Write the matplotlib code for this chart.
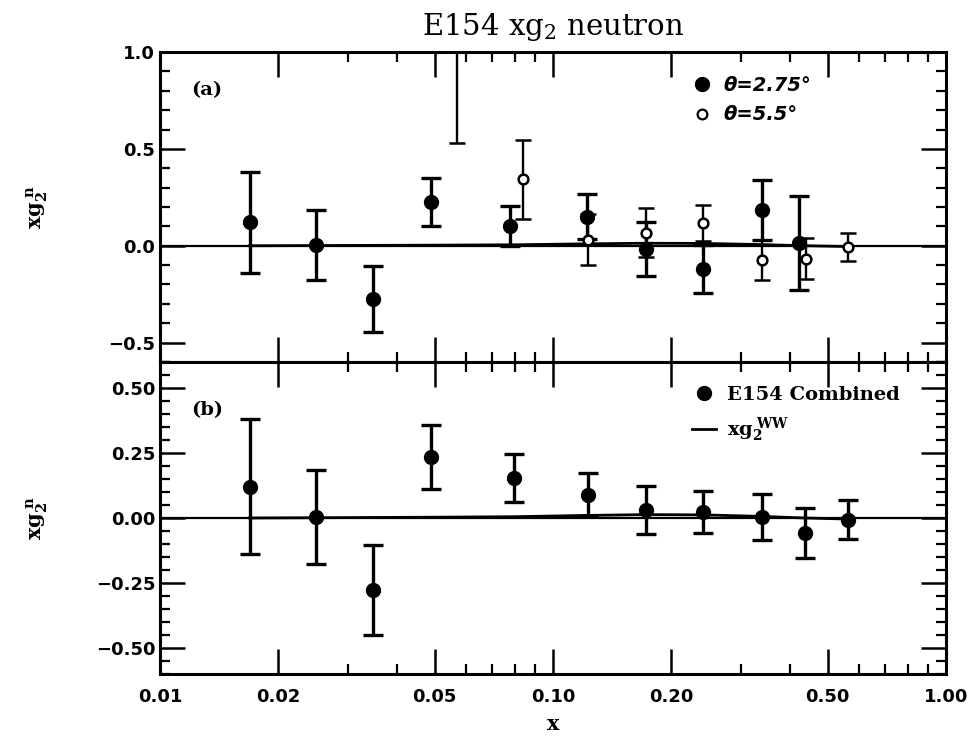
import matplotlib
matplotlib.use("Agg")
import matplotlib.pyplot as plt
from matplotlib.lines import Line2D
from matplotlib.ticker import FixedLocator, FixedFormatter, MultipleLocator, NullFormatter

plt.rcParams["mathtext.fontset"] = "dejavuserif"

# panel (a): theta = 2.75 deg (filled)
x_275 = [0.0169, 0.0249, 0.0349, 0.049, 0.0777, 0.1218, 0.172, 0.241, 0.341, 0.4227]
y_275 = [0.121, 0.004, -0.276, 0.224, 0.104, 0.150, -0.015, -0.120, 0.186, 0.014]
e_275 = [0.260, 0.180, 0.170, 0.124, 0.103, 0.115, 0.139, 0.123, 0.155, 0.244]

# panel (a): theta = 5.5 deg (open)
x_55 = [0.0569, 0.0840, 0.1225, 0.172, 0.241, 0.341, 0.440, 0.5623]
y_55 = [1.30, 0.343, 0.032, 0.068, 0.118, -0.074, -0.067, -0.007]
e_55 = [0.77, 0.203, 0.130, 0.126, 0.094, 0.105, 0.105, 0.072]

# panel (b): combined
x_comb = [0.0169, 0.0249, 0.0349, 0.049, 0.0797, 0.1226, 0.172, 0.241, 0.341, 0.4378, 0.5623]
y_comb = [0.121, 0.004, -0.277, 0.236, 0.155, 0.090, 0.030, 0.023, 0.004, -0.058, -0.006]
e_comb = [0.259, 0.182, 0.172, 0.123, 0.093, 0.082, 0.092, 0.079, 0.089, 0.097, 0.075]

# xg2 WW curve
x_ww = [0.0169, 0.0249, 0.0349, 0.049, 0.0797, 0.1226, 0.172, 0.241, 0.341, 0.4378, 0.5623]
y_ww = [0.000, 0.001, 0.002, 0.003, 0.005, 0.010, 0.013, 0.012, 0.006, 0.000, -0.004]

x_ticks = [0.01, 0.02, 0.05, 0.10, 0.20, 0.50, 1.00]
x_ticklabels = ["0.01", "0.02", "0.05", "0.10", "0.20", "0.50", "1.00"]
x_minor = [0.03, 0.04, 0.06, 0.07, 0.08, 0.09, 0.3, 0.4, 0.6, 0.7, 0.8, 0.9]

fig = plt.figure(figsize=(9.74, 7.38), dpi=100)
ax_a = fig.add_axes([0.1643, 0.5095, 0.807, 0.420])
ax_b = fig.add_axes([0.1643, 0.0867, 0.807, 0.4228])

tick_font = {"family": "DejaVu Sans", "weight": "bold", "size": 13}


def style_axis(ax):
    ax.set_xscale("log")
    ax.set_xlim(0.01, 1.0)
    ax.xaxis.set_major_locator(FixedLocator(x_ticks))
    ax.xaxis.set_minor_locator(FixedLocator(x_minor))
    ax.xaxis.set_minor_formatter(NullFormatter())
    for s in ax.spines.values():
        s.set_linewidth(2.2)
    ax.tick_params(which="major", direction="in", length=18, width=1.8,
                   top=True, right=True)
    ax.tick_params(which="minor", direction="in", length=7, width=1.6,
                   top=True, right=True)
    ax.yaxis.set_label_coords(-0.14, 0.5)


# ---- panel (a)
ax = ax_a
style_axis(ax)
ax.axhline(0, color="black", lw=1.6, zorder=1)
ax.plot(x_ww, y_ww, color="black", lw=2.0, zorder=1)
ax.errorbar(x_275, y_275, yerr=e_275, fmt="o", color="black", ms=10,
            elinewidth=2.4, capsize=7, capthick=2.4, zorder=3)
ax.errorbar(x_55, y_55, yerr=e_55, fmt="o", color="black", mfc="white",
            mew=1.8, ms=7, elinewidth=1.7, capsize=6, capthick=1.7, zorder=4)
ax.set_ylim(-0.6, 1.0)
ax.set_yticks([-0.5, 0.0, 0.5, 1.0])
ax.set_yticklabels(["\u22120.5", "0.0", "0.5", "1.0"], **tick_font)
ax.yaxis.set_minor_locator(MultipleLocator(0.1))
ax.xaxis.set_major_formatter(NullFormatter())
ax.set_ylabel(r"$\mathbf{xg_2^{\;n}}$", fontsize=15)
ax.text(0.04, 0.86, "(a)", transform=ax.transAxes, fontsize=14,
        fontweight="bold", family="DejaVu Serif")
handles_a = [
    Line2D([], [], ls="none", marker="o", color="black", ms=10),
    Line2D([], [], ls="none", marker="o", color="black", mfc="white", mew=1.6, ms=7),
]
ax.legend(handles_a, ["\u03b8=2.75\u00b0", "\u03b8=5.5\u00b0"], loc="upper left",
          bbox_to_anchor=(0.655, 0.98), frameon=False, handlelength=1.0,
          handletextpad=0.6, labelspacing=0.55,
          prop={"family": "DejaVu Sans", "weight": "bold", "style": "italic", "size": 14})

# ---- panel (b)
ax = ax_b
style_axis(ax)
ax.axhline(0, color="black", lw=1.6, zorder=1)
ax.plot(x_ww, y_ww, color="black", lw=2.0, zorder=1)
ax.errorbar(x_comb, y_comb, yerr=e_comb, fmt="o", color="black", ms=10,
            elinewidth=2.4, capsize=7, capthick=2.4, zorder=3)
ax.set_ylim(-0.6, 0.6)
ax.set_yticks([-0.5, -0.25, 0.0, 0.25, 0.5])
ax.set_yticklabels(["\u22120.50", "\u22120.25", "0.00", "0.25", "0.50"], **tick_font)
ax.yaxis.set_minor_locator(MultipleLocator(0.05))
ax.xaxis.set_major_formatter(FixedFormatter(x_ticklabels))
for lab in ax.get_xticklabels():
    lab.set(**tick_font)
ax.tick_params(axis="x", which="major", pad=10)
ax.set_ylabel(r"$\mathbf{xg_2^{\;n}}$", fontsize=15)
ax.set_xlabel("x", fontsize=15, fontweight="bold", family="DejaVu Serif", labelpad=6)
ax.text(0.04, 0.83, "(b)", transform=ax.transAxes, fontsize=14,
        fontweight="bold", family="DejaVu Serif")
handles_b = [
    Line2D([], [], ls="none", marker="o", color="black", ms=10),
    Line2D([], [], color="black", lw=2.0),
]
ax.legend(handles_b, ["E154 Combined", r"$\mathbf{xg_2^{\;WW}}$"], loc="upper left",
          bbox_to_anchor=(0.655, 0.98), frameon=False, handlelength=1.2,
          handletextpad=0.6, labelspacing=0.6,
          prop={"family": "DejaVu Serif", "weight": "bold", "size": 14})

fig.suptitle(r"E154 xg$_2$ neutron", x=0.568, y=0.985, fontsize=21,
             family="DejaVu Serif")

fig.savefig("out.png", dpi=100)
